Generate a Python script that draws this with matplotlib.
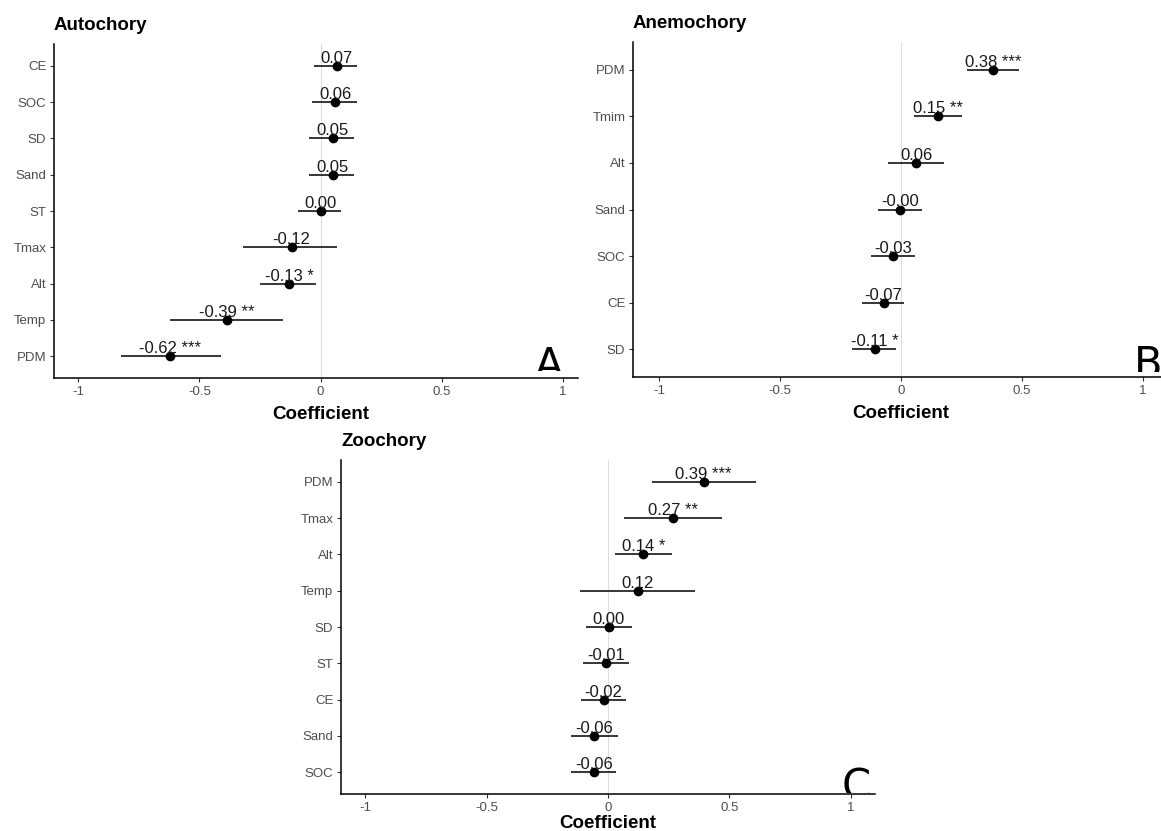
import matplotlib
matplotlib.use("Agg")
import matplotlib.pyplot as plt
from matplotlib.transforms import Bbox, TransformedBbox

plt.rcParams['font.family'] = ['Liberation Sans', 'DejaVu Sans']

# Autochory
auto_vars = ['CE', 'SOC', 'SD', 'Sand', 'ST', 'Tmax', 'Alt', 'Temp', 'PDM']
auto_coef = [0.066, 0.06, 0.05, 0.05, 0.0, -0.12, -0.13, -0.386, -0.62]
auto_low = [-0.026, -0.037, -0.046, -0.046, -0.095, -0.32, -0.25, -0.62, -0.825]
auto_high = [0.152, 0.149, 0.139, 0.139, 0.085, 0.066, -0.02, -0.155, -0.41]
auto_sig = ['', '', '', '', '', '', '*', '**', '***']

# Anemochory
anem_vars = ['PDM', 'Tmim', 'Alt', 'Sand', 'SOC', 'CE', 'SD']
anem_coef = [0.38, 0.154, 0.064, -0.003, -0.032, -0.072, -0.107]
anem_low = [0.273, 0.052, -0.053, -0.093, -0.123, -0.161, -0.203]
anem_high = [0.487, 0.254, 0.177, 0.088, 0.059, 0.012, -0.02]
anem_sig = ['***', '**', '', '', '', '', '*']

# Zoochory
zoo_vars = ['PDM', 'Tmax', 'Alt', 'Temp', 'SD', 'ST', 'CE', 'Sand', 'SOC']
zoo_coef = [0.394, 0.269, 0.145, 0.122, 0.004, -0.008, -0.018, -0.058, -0.058]
zoo_low = [0.18, 0.066, 0.027, -0.117, -0.089, -0.103, -0.112, -0.152, -0.152]
zoo_high = [0.609, 0.47, 0.262, 0.359, 0.098, 0.085, 0.073, 0.04, 0.035]
zoo_sig = ['***', '**', '*', '', '', '', '', '', '']

xticks = [-1, -0.5, 0, 0.5, 1]
xticklabels = ['-1', '-0.5', '0', '0.5', '1']

W, H = 1161, 831
fig = plt.figure(figsize=(W / 100, H / 100), dpi=100)


def px_axes(left, top, right, bottom):
    return fig.add_axes([left / W, 1 - bottom / H, (right - left) / W, (bottom - top) / H])


def forest(ax, title, names, coef, low, high, sig, xlim, label_y=-0.085):
    n = len(names)
    ys = list(range(n))
    ax.axvline(0, color='#dedede', lw=0.8, zorder=0)
    ax.hlines(ys, low, high, color='black', lw=1.1, zorder=2)
    ax.plot(coef, ys, 'o', color='black', ms=6, zorder=3)
    for y, v, s in zip(ys, coef, sig):
        lab = f'{v:.2f}' + (' ' + s if s else '')
        ax.annotate(lab, (v, y), xytext=(0, 2.2), textcoords='offset points',
                    ha='center', va='baseline', fontsize=12, color='#1a1a1a')
    ax.set_xlim(*xlim)
    ax.set_ylim(n - 0.4, -0.6)
    ax.set_yticks(ys)
    ax.set_yticklabels(names)
    ax.set_xticks(xticks)
    ax.set_xticklabels(xticklabels)
    for sp in ['top', 'right']:
        ax.spines[sp].set_visible(False)
    for sp in ['left', 'bottom']:
        ax.spines[sp].set_linewidth(1.1)
    ax.tick_params(length=3, width=0.8, color='#333333', labelcolor='#4d4d4d',
                   labelsize=9.5, pad=2.5)
    ax.set_title(title, loc='left', fontsize=13.5, fontweight='bold', pad=10)
    ax.set_xlabel('Coefficient', fontsize=13.5, fontweight='bold')
    ax.xaxis.set_label_coords((0 - xlim[0]) / (xlim[1] - xlim[0]), label_y)


ax_a = px_axes(54, 44, 578, 378)
forest(ax_a, 'Autochory', auto_vars, auto_coef, auto_low, auto_high, auto_sig, (-1.1, 1.062))

ax_b = px_axes(633, 42, 1161, 377)
forest(ax_b, 'Anemochory', anem_vars, anem_coef, anem_low, anem_high, anem_sig, (-1.107, 1.074))

ax_c = px_axes(341, 460, 875, 794)
forest(ax_c, 'Zoochory', zoo_vars, zoo_coef, zoo_low, zoo_high, zoo_sig, (-1.1, 1.1),
       label_y=-0.062)


# panel letters, cut off along a line near the bottom of each panel
def panel_letter(s, x, base, cut):
    t = fig.text(x / W, 1 - base / H, s, fontsize=30, family='DejaVu Sans',
                 ha='left', va='baseline', color='black')
    box = Bbox.from_extents(0, 1 - cut / H, 1, 1)
    t.set_clip_box(TransformedBbox(box, fig.transFigure))
    t.set_clip_on(True)


panel_letter('A', 535, 378, 371)
panel_letter('B', 1134, 377, 372)
panel_letter('C', 842, 799, 793)

fig.savefig('out.png', dpi=100)
